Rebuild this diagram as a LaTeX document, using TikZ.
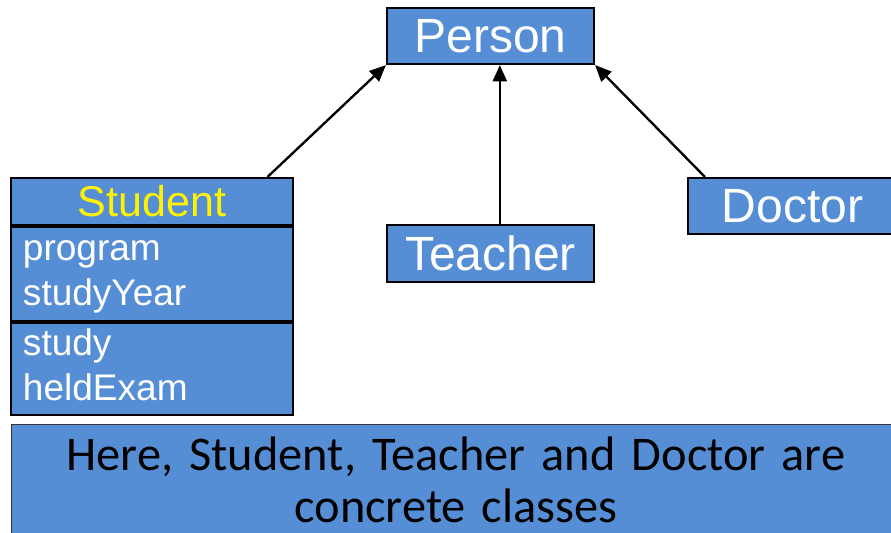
\documentclass[tikz,border=0pt]{standalone}
\usepackage{fontspec}
\setmainfont{Liberation Sans}
\newfontfamily\notefont{Carlito}
\usetikzlibrary{arrows.meta}
\definecolor{clsblue}{RGB}{85,142,213}
\tikzset{
  cls/.style={draw=black, line width=1.8pt, fill=clsblue, text=white, inner sep=0pt,
    font=\fontsize{41}{49}\selectfont},
  members/.style={cls, anchor=north west, minimum width=8.46cm, text width=7.74cm,
    align=left, font=\fontsize{31.6}{38.4}\selectfont},
  inherit/.style={-{Triangle[length=14pt,width=12pt]}, line width=2pt}
}
\begin{document}
\begin{tikzpicture}[x=0.03cm, y=-0.03cm]
  \useasboundingbox (0,0) rectangle (891,533);
  \clip (0,0) rectangle (891,533);

  %Super class
  \node[cls, minimum width=6.21cm, minimum height=1.68cm] (person) at (490.5,36) {Person};

  %Sub classes
  \node[cls, minimum width=8.46cm, minimum height=1.41cm, text=yellow,
    font=\fontsize{36.7}{44}\selectfont] (student) at (152,201.5) {Student};
  \node[members, minimum height=2.82cm] (studentAttr) at (student.south west) {\strut program\\\strut studyYear};
  \node[members, minimum height=2.76cm] (studentOps) at (studentAttr.south west) {\strut study\\\strut heldExam};
  \node[cls, minimum width=6.21cm, minimum height=1.71cm] (teacher) at (490.5,253.5) {Teacher};
  \node[cls, minimum width=6.27cm, minimum height=1.68cm] (doctor) at (792.5,206) {Doctor};

  %Inheritance
  \draw[inherit] (student.12) -- (person.south west);
  \draw[inherit] ([xshift=0.28cm]teacher.north) -- ([xshift=0.28cm]person.south);
  \draw[inherit] ([xshift=0.54cm]doctor.north west) -- (person.south east);

  %Note
  \node[cls, draw=black!80, line width=0.8pt, text=black, minimum width=26.7cm,
    minimum height=3.36cm, text width=26cm, align=center,
    font=\notefont\fontsize{41.3}{45}\selectfont] (note) at (456,480)
    {Here, Student, Teacher and Doctor are\\concrete classes};
\end{tikzpicture}
\end{document}
